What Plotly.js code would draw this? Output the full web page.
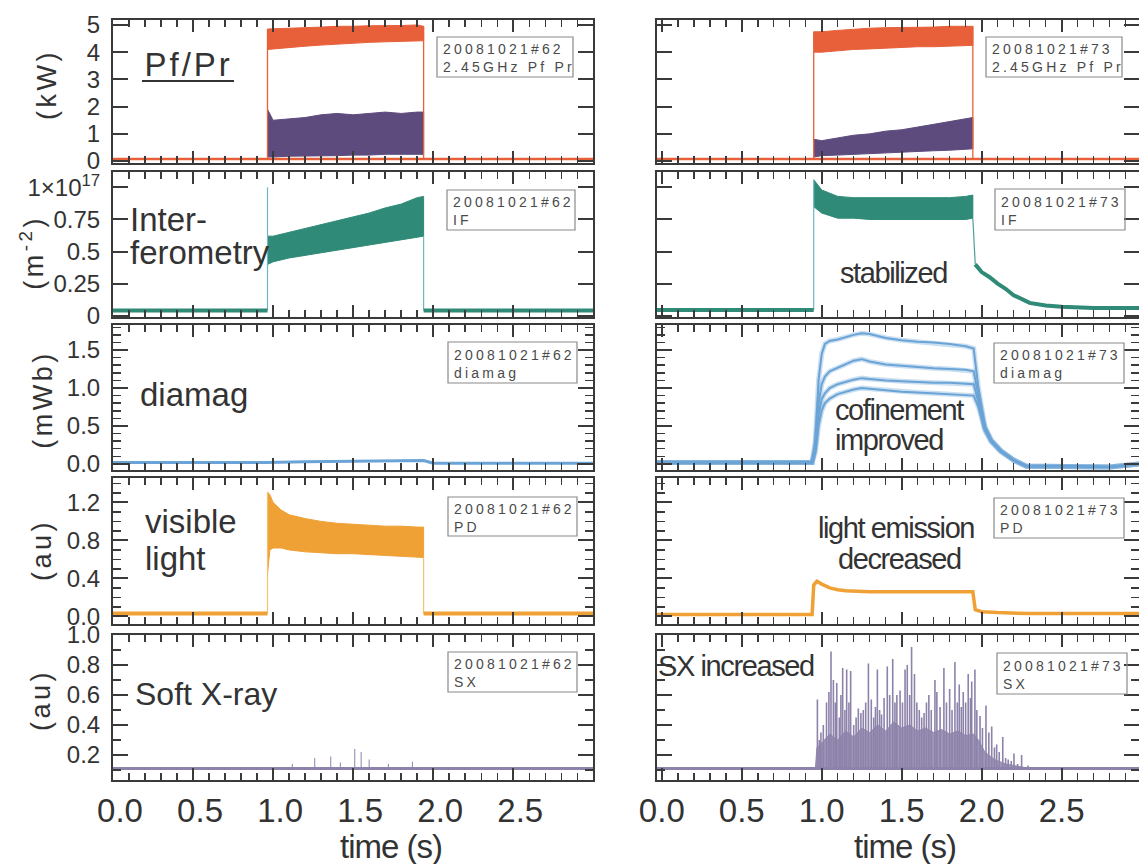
<!DOCTYPE html>
<html><head><meta charset="utf-8">
<script src="https://cdn.plot.ly/plotly-3.0.1.min.js"></script>
<style>
html,body{margin:0;padding:0;background:#fff}
.xtick text{letter-spacing:-2px}
</style>
</head><body><div id="chart" style="width:1139px;height:864px"></div>
<script>
// ---------------- DATA ----------------
const timeTicks = [0, 0.5, 1.0, 1.5, 2.0, 2.5];
const timeTickText = ['0.0', '0.5', '1.0', '1.5', '2.0', '2.5'];
const pwrTicks = [0, 1, 2, 3, 4, 5];
const pwrTickText = ['0', '1', '2', '3', '4', '5'];
const ifTicks = [0, 0.25, 0.5, 0.75, 1];
const ifTickText = ['0', '0.25', '0.5', '0.75', '1×10<sup>17</sup>'];
const diaTicks = [0, 0.5, 1.0, 1.5];
const diaTickText = ['0.0', '0.5', '1.0', '1.5'];
const pdTicks = [0, 0.4, 0.8, 1.2];
const pdTickText = ['0.0', '0.4', '0.8', '1.2'];
const sxTicks = [0.2, 0.4, 0.6, 0.8, 1.0];
const sxTickText = ['0.2', '0.4', '0.6', '0.8', '1.0'];

// shot #62 (left) pulse times and envelopes
const tL = [0.965, 1.0, 1.1, 1.2, 1.3, 1.4, 1.5, 1.6, 1.7, 1.8, 1.9, 1.94];
const pfL_lo = [4.10, 4.12, 4.18, 4.22, 4.26, 4.30, 4.33, 4.36, 4.38, 4.40, 4.42, 4.42];
const pfL_hi = [4.85, 4.85, 4.88, 4.90, 4.92, 4.95, 4.95, 4.97, 4.98, 4.98, 5.00, 4.95];
const prL_lo = [0.15, 0.15, 0.18, 0.18, 0.20, 0.20, 0.22, 0.22, 0.25, 0.25, 0.25, 0.25];
const prL_hi = [1.90, 1.50, 1.55, 1.60, 1.70, 1.75, 1.70, 1.75, 1.80, 1.75, 1.80, 1.80];
const pwrBaseL = 0.08;
const ifL_lo = [0.40, 0.42, 0.45, 0.47, 0.49, 0.51, 0.53, 0.55, 0.57, 0.59, 0.61, 0.62];
const ifL_hi = [0.62, 0.62, 0.65, 0.68, 0.71, 0.74, 0.77, 0.80, 0.84, 0.87, 0.92, 0.93];
const ifL_peak = 1.0;
const ifBaseL = 0.04;
const tDiaL = [0, 0.5, 0.96, 1.2, 1.5, 1.8, 1.94, 2.0, 2.5, 3.0];
const diaL = [0.02, 0.02, 0.02, 0.03, 0.04, 0.045, 0.045, 0.01, 0.01, 0.01];
const tPdL = [0.965, 0.98, 1.0, 1.05, 1.1, 1.2, 1.3, 1.4, 1.5, 1.6, 1.7, 1.8, 1.9, 1.94];
const pdL_lo = [0.45, 0.70, 0.72, 0.72, 0.70, 0.68, 0.67, 0.66, 0.66, 0.65, 0.64, 0.63, 0.62, 0.62];
const pdL_hi = [1.31, 1.28, 1.20, 1.12, 1.07, 1.03, 1.00, 0.98, 0.97, 0.96, 0.95, 0.95, 0.94, 0.94];
const pdBaseL = 0.03;
const sxBaseL = 0.11;
const sxSpikeTL = [1.12, 1.26, 1.36, 1.42, 1.51, 1.55, 1.60, 1.72, 1.87];
const sxSpikeVL = [0.14, 0.18, 0.19, 0.15, 0.24, 0.22, 0.17, 0.14, 0.155];

// shot #73 (right)
const tR = [0.95, 1.0, 1.1, 1.2, 1.3, 1.4, 1.5, 1.6, 1.7, 1.8, 1.9, 1.945];
const pfR_lo = [4.00, 4.00, 4.05, 4.10, 4.12, 4.15, 4.18, 4.20, 4.20, 4.22, 4.25, 4.25];
const pfR_hi = [4.75, 4.75, 4.80, 4.85, 4.88, 4.90, 4.90, 4.92, 4.92, 4.95, 4.95, 4.95];
const prR_lo = [0.15, 0.20, 0.22, 0.25, 0.28, 0.30, 0.32, 0.35, 0.38, 0.40, 0.42, 0.45];
const prR_hi = [0.80, 0.75, 0.85, 0.95, 1.00, 1.10, 1.15, 1.25, 1.35, 1.45, 1.55, 1.60];
const pwrBaseR = 0.08;
const ifR_lo = [0.85, 0.80, 0.76, 0.76, 0.75, 0.75, 0.75, 0.75, 0.75, 0.75, 0.75, 0.76];
const ifR_hi = [1.06, 0.98, 0.93, 0.92, 0.92, 0.92, 0.92, 0.92, 0.92, 0.92, 0.93, 0.94];
const ifBaseR = 0.045;
const tIfDecR = [1.96, 2.0, 2.05, 2.1, 2.15, 2.2, 2.3, 2.4, 2.5, 2.7, 2.99];
const ifDecR = [0.40, 0.34, 0.30, 0.25, 0.21, 0.16, 0.10, 0.08, 0.07, 0.06, 0.06];
const tDiaR = [-0.03, 0.94, 0.96, 0.98, 1.0, 1.02, 1.05, 1.1, 1.2, 1.25, 1.3, 1.4, 1.5, 1.6, 1.7, 1.8, 1.9, 1.95, 1.98, 2.02, 2.06, 2.12, 2.2, 2.28, 2.4, 2.6, 2.8, 2.99];
const diaR1 = [0.02, 0.02, 0.30, 1.10, 1.45, 1.58, 1.62, 1.64, 1.70, 1.72, 1.71, 1.66, 1.63, 1.61, 1.60, 1.58, 1.55, 1.52, 1.00, 0.50, 0.32, 0.18, 0.05, -0.03, -0.03, -0.03, -0.04, 0.00];
const diaR2 = [0.02, 0.02, 0.25, 0.80, 1.05, 1.15, 1.22, 1.27, 1.36, 1.38, 1.35, 1.31, 1.29, 1.27, 1.26, 1.25, 1.24, 1.22, 0.90, 0.48, 0.31, 0.17, 0.05, -0.03, -0.03, -0.03, -0.04, 0.00];
const diaR3 = [0.02, 0.02, 0.20, 0.65, 0.85, 0.93, 1.00, 1.05, 1.11, 1.13, 1.12, 1.10, 1.09, 1.08, 1.07, 1.07, 1.06, 1.05, 0.82, 0.46, 0.30, 0.17, 0.05, -0.03, -0.03, -0.03, -0.04, 0.00];
const diaR4 = [0.02, 0.02, 0.15, 0.50, 0.70, 0.80, 0.86, 0.92, 0.98, 1.00, 0.99, 0.97, 0.95, 0.94, 0.93, 0.92, 0.91, 0.90, 0.75, 0.44, 0.29, 0.16, 0.05, -0.03, -0.03, -0.03, -0.04, 0.00];
const tPdR = [-0.03, 0.94, 0.95, 0.97, 1.0, 1.05, 1.1, 1.15, 1.3, 1.5, 1.7, 1.9, 1.945, 1.96, 2.0, 2.1, 2.3, 2.6, 2.99];
const pdR = [0.02, 0.02, 0.33, 0.37, 0.34, 0.30, 0.28, 0.27, 0.26, 0.26, 0.26, 0.26, 0.26, 0.07, 0.05, 0.04, 0.03, 0.03, 0.03];
const sxBaseR = 0.11;
const sxFloorT = [0.96, 0.97, 1.0, 1.05, 1.1, 1.15, 1.2, 1.25, 1.3, 1.35, 1.4, 1.45, 1.5, 1.55, 1.6, 1.65, 1.7, 1.75, 1.8, 1.85, 1.9, 1.95, 1.98, 2.02, 2.08, 2.15, 2.25, 2.3];
const sxFloorV = [0.11, 0.25, 0.28, 0.34, 0.30, 0.36, 0.32, 0.38, 0.35, 0.40, 0.36, 0.42, 0.38, 0.40, 0.36, 0.38, 0.35, 0.37, 0.34, 0.36, 0.33, 0.34, 0.30, 0.22, 0.17, 0.14, 0.12, 0.11];
const sxSpikeTR = [0.973, 0.985, 0.995, 1.01, 1.03, 1.045, 1.058, 1.073, 1.085, 1.094, 1.11, 1.12, 1.131, 1.145, 1.156, 1.17, 1.181, 1.20, 1.215, 1.229, 1.245, 1.26, 1.275, 1.292, 1.31, 1.325, 1.336, 1.348, 1.362, 1.374, 1.39, 1.41, 1.425, 1.444, 1.458, 1.47, 1.49, 1.505, 1.521, 1.535, 1.55, 1.562, 1.58, 1.595, 1.61, 1.625, 1.64, 1.655, 1.67, 1.685, 1.708, 1.72, 1.74, 1.764, 1.78, 1.80, 1.815, 1.833, 1.848, 1.86, 1.873, 1.885, 1.90, 1.916, 1.93, 1.938, 1.958, 1.97, 1.99, 2.005, 2.027, 2.045, 2.063, 2.08, 2.094, 2.11, 2.132, 2.15, 2.166, 2.185, 2.202, 2.225, 2.25, 2.29];
const sxSpikeVR = [0.57, 0.30, 0.35, 0.40, 0.55, 0.62, 0.89, 0.70, 0.55, 0.68, 0.45, 0.60, 0.78, 0.50, 0.77, 0.55, 0.76, 0.40, 0.45, 0.51, 0.48, 0.50, 0.55, 0.81, 0.57, 0.45, 0.52, 0.77, 0.50, 0.47, 0.58, 0.79, 0.60, 0.84, 0.55, 0.60, 0.63, 0.55, 0.77, 0.80, 0.60, 0.92, 0.74, 0.55, 0.50, 0.45, 0.48, 0.55, 0.60, 0.50, 0.70, 0.62, 0.52, 0.78, 0.55, 0.64, 0.50, 0.82, 0.55, 0.67, 0.52, 0.62, 0.55, 0.74, 0.58, 0.69, 0.77, 0.50, 0.46, 0.38, 0.53, 0.35, 0.39, 0.25, 0.27, 0.22, 0.32, 0.18, 0.17, 0.16, 0.21, 0.14, 0.20, 0.13];

const boxLine1 = ['20081021#62', '20081021#73', '20081021#62', '20081021#73', '20081021#62', '20081021#73', '20081021#62', '20081021#73', '20081021#62', '20081021#73'];
const boxLine2 = ['2.45GHz Pf Pr', '2.45GHz Pf Pr', 'IF', 'IF', 'diamag', 'diamag', 'PD', 'PD', 'SX', 'SX'];
const yTitles = ['(kW)', '(m<sup>-2</sup>)', '(mWb)', '(au)', '(au)'];

// ---------------- LAYOUT ----------------
const W = 1139, H = 864;
const X = p => p / W, Y = p => 1 - p / H;
const FRAME = '#3a3a3a', TXT = '#333333';
const SANS = '"Liberation Sans", Arial, sans-serif';
const colDom = [[113, 593], [657, 1139]];
const rowDom = [[19.5, 163], [172, 317], [325, 470], [478, 624], [635, 780]];
const xRanges = [[0, 2.998], [-0.03, 2.984]];
const xLabelShift = [7, 0];
const yRanges = [[-0.07, 5.2], [-0.01, 1.12], [-0.08, 1.83], [-0.08, 1.457], [0.033, 1.0]];
const yTickSets = [[pwrTicks, pwrTickText, null], [ifTicks, ifTickText, null], [diaTicks, diaTickText, 0.1], [pdTicks, pdTickText, 0.1], [sxTicks, sxTickText, 0.1]];

const COL = {pf: '#e8603a', pr: '#5d4b7e', ifc: '#2f8a77', dia: '#6aa3d6', pd: '#efa136', sx: '#8d82aa'};

const layout = {width: W, height: H, margin: {l: 0, r: 0, t: 0, b: 0}, showlegend: false,
  paper_bgcolor: '#fff', plot_bgcolor: '#fff', annotations: [], shapes: []};
const sfx = n => (n === 1 ? '' : String(n));
const axn = (r, c) => r * 2 + c + 1;

for (let r = 0; r < 5; r++) {
  for (let c = 0; c < 2; c++) {
    const n = axn(r, c);
    layout['xaxis' + sfx(n)] = {
      domain: [X(colDom[c][0]), X(colDom[c][1])], range: xRanges[c], anchor: 'y' + sfx(n),
      tickmode: 'array', tickvals: timeTicks, ticktext: timeTickText,
      ticks: 'inside', ticklen: 12, tickwidth: 2, tickcolor: FRAME,
      showline: true, linecolor: FRAME, linewidth: 2, mirror: 'allticks',
      showgrid: false, zeroline: false, showticklabels: r === 4,
      tickfont: {family: SANS, size: 33, color: TXT}, ticklabelshift: xLabelShift[c], ticklabelstandoff: 0,
      minor: {tickmode: 'linear', tick0: 0, dtick: 0.1, ticks: 'inside', ticklen: 7, tickwidth: 1.5, tickcolor: FRAME, showgrid: false},
      fixedrange: true
    };
    const ts = yTickSets[r];
    const ya = {
      domain: [Y(rowDom[r][1]), Y(rowDom[r][0])], range: yRanges[r], anchor: 'x' + sfx(n),
      tickmode: 'array', tickvals: ts[0], ticktext: ts[1],
      ticks: 'inside', ticklen: 15, tickwidth: 2, tickcolor: FRAME,
      showline: true, linecolor: FRAME, linewidth: 2, mirror: 'allticks',
      showgrid: false, zeroline: false, showticklabels: c === 0,
      tickfont: {family: SANS, size: 24, color: TXT}, ticklabelstandoff: 6,
      fixedrange: true
    };
    if (ts[2]) ya.minor = {tickmode: 'linear', tick0: 0, dtick: ts[2], ticks: 'inside', ticklen: 8, tickwidth: 1.5, tickcolor: FRAME, showgrid: false};
    layout['yaxis' + sfx(n)] = ya;
  }
}

// ---------------- TRACES ----------------
const traces = [];
const ax = n => ({xaxis: 'x' + sfx(n), yaxis: 'y' + sfx(n)});
function band(n, t, lo, hi, color) {
  traces.push(Object.assign({type: 'scatter', mode: 'lines', x: t.concat(t.slice().reverse()), y: lo.concat(hi.slice().reverse()),
    fill: 'toself', fillcolor: color, line: {color: color, width: 1}, hoverinfo: 'skip'}, ax(n)));
}
function line(n, t, v, color, w) {
  traces.push(Object.assign({type: 'scatter', mode: 'lines', x: t, y: v, line: {color: color, width: w}, hoverinfo: 'skip'}, ax(n)));
}
function spikes(n, t, v, base, color, w) {
  const xs = [], ys = [];
  t.forEach((ti, i) => { xs.push(ti, ti, null); ys.push(base, v[i], null); });
  traces.push(Object.assign({type: 'scatter', mode: 'lines', x: xs, y: ys, line: {color: color, width: w}, hoverinfo: 'skip'}, ax(n)));
}
const first = a => a[0], last = a => a[a.length - 1];

// Row 1: Pf / Pr
band(1, tL, pfL_lo, pfL_hi, COL.pf); band(1, tL, prL_lo, prL_hi, COL.pr);
line(1, [first(tL), first(tL)], [pwrBaseL, first(pfL_hi)], COL.pf, 1.3);
line(1, [last(tL), last(tL)], [last(pfL_hi), pwrBaseL], COL.pf, 1.3);
line(1, [xRanges[0][0], xRanges[0][1]], [pwrBaseL, pwrBaseL], COL.pf, 2.5);
band(2, tR, pfR_lo, pfR_hi, COL.pf); band(2, tR, prR_lo, prR_hi, COL.pr);
line(2, [first(tR), first(tR)], [pwrBaseR, first(pfR_hi)], COL.pf, 1.3);
line(2, [last(tR), last(tR)], [last(pfR_hi), pwrBaseR], COL.pf, 1.3);
line(2, [xRanges[1][0], xRanges[1][1]], [pwrBaseR, pwrBaseR], COL.pf, 2.5);
// Row 2: IF
band(3, tL, ifL_lo, ifL_hi, COL.ifc);
line(3, [first(tL), first(tL)], [ifBaseL, ifL_peak], '#6fb6c0', 1.2);
line(3, [last(tL), last(tL)], [last(ifL_lo), ifBaseL], '#6fb6c0', 1.2);
line(3, [xRanges[0][0], first(tL)], [ifBaseL, ifBaseL], COL.ifc, 4);
line(3, [last(tL), xRanges[0][1]], [ifBaseL, ifBaseL], COL.ifc, 4);
band(4, tR, ifR_lo, ifR_hi, COL.ifc);
line(4, [first(tR), first(tR)], [ifBaseR, first(ifR_hi)], '#6fb6c0', 1.2);
line(4, [last(tR), first(tIfDecR)], [last(ifR_lo), first(ifDecR)], '#4f9f96', 1.2);
line(4, [xRanges[1][0], first(tR)], [ifBaseR, ifBaseR], COL.ifc, 4);
line(4, tIfDecR, ifDecR, COL.ifc, 4);
// Row 3: diamag
line(5, tDiaL, diaL, COL.dia, 3);
[diaR1, diaR2, diaR3, diaR4].forEach(d => line(6, tDiaR, d, 'rgba(106,163,214,0.35)', 5));
[diaR1, diaR2, diaR3, diaR4].forEach(d => line(6, tDiaR, d, COL.dia, 2));
// Row 4: PD
band(7, tPdL, pdL_lo, pdL_hi, COL.pd);
line(7, [first(tPdL), first(tPdL)], [pdBaseL, first(pdL_hi)], '#f4c070', 1.2);
line(7, [last(tPdL), last(tPdL)], [last(pdL_lo), pdBaseL], '#f4c070', 1.2);
line(7, [xRanges[0][0], first(tPdL)], [pdBaseL, pdBaseL], COL.pd, 4);
line(7, [last(tPdL), xRanges[0][1]], [pdBaseL, pdBaseL], COL.pd, 4);
line(8, tPdR, pdR, COL.pd, 3.5);
// Row 5: SX
line(9, [xRanges[0][0], xRanges[0][1]], [sxBaseL, sxBaseL], COL.sx, 3);
spikes(9, sxSpikeTL, sxSpikeVL, sxBaseL, COL.sx, 1);
band(10, sxFloorT, sxFloorT.map(() => sxBaseR), sxFloorV, 'rgba(141,130,170,0.85)');
spikes(10, sxSpikeTR, sxSpikeVR, sxBaseR, COL.sx, 1.6);
line(10, [xRanges[1][0], xRanges[1][1]], [sxBaseR, sxBaseR], COL.sx, 3);

// ---------------- ANNOTATIONS ----------------
const A = layout.annotations;
const spacing = {};
function note(o, ls) { if (ls) spacing[A.length] = ls; A.push(Object.assign({xref: 'paper', yref: 'paper', showarrow: false}, o)); }
// id boxes: [left px, top px, right px, bottom px]
const boxPos = [[437, 37, 573, 77], [986, 37, 1122, 77], [447, 190, 575, 230], [995, 189, 1125, 230], [448, 342, 577, 383],
  [994, 343, 1124, 383], [448, 497, 577, 536], [994, 498, 1124, 538], [448, 652, 577, 692], [997, 653, 1127, 694]];
boxPos.forEach((b, i) => {
  layout.shapes.push({type: 'rect', xref: 'paper', yref: 'paper', x0: X(b[0]), x1: X(b[2]), y0: Y(b[3]), y1: Y(b[1]),
    line: {color: '#8a8a8a', width: 1.2}, fillcolor: 'rgba(0,0,0,0)'});
  note({x: X(b[0] + 4), y: Y((b[1] + b[3]) / 2 + 1), xanchor: 'left', yanchor: 'middle', align: 'left',
    text: boxLine1[i] + '<br>' + boxLine2[i], font: {family: SANS, size: 14, color: '#4a4a4a'}}, 3.2);
});
// y titles: [x center, y center]
const yTitlePos = [[47, 85], [32, 253], [43, 400], [42, 550], [41, 700]];
yTitles.forEach((t, i) => {
  note({x: X(yTitlePos[i][0]), y: Y(yTitlePos[i][1]), xanchor: 'center', yanchor: 'middle',
    text: t, textangle: -90, font: {family: SANS, size: 27, color: TXT}}, 3.5);
});
// time titles
[[391, 846], [905, 846]].forEach(p => {
  note({x: X(p[0]), y: Y(p[1]), xanchor: 'center', yanchor: 'middle',
    text: 'time (s)', font: {family: SANS, size: 33, color: TXT}}, -1);
});
// panel labels: [text, left px, center y px, size, letter spacing]
const labels = [
  ['Inter-', 128, 219, 33, 0], ['ferometry', 128, 252, 33, 0], ['diamag', 138, 394, 33, 0],
  ['visible', 143, 521, 33, 0], ['light', 143, 558, 33, 0], ['Soft X-ray', 133, 694, 32, 0],
  ['stabilized', 838, 273, 29, -1.4], ['cofinement', 833, 410, 29, -1.4], ['improved', 833, 440, 29, -1.4],
  ['light emission', 816, 528, 29, -1.4], ['decreased', 836, 559, 29, -1.4], ['SX increased', 656, 666, 29, -1.4]
];
labels.forEach(l => {
  note({x: X(l[1]), y: Y(l[2]), xanchor: 'left', yanchor: 'middle', align: 'left', text: l[0], font: {family: SANS, size: l[3], color: TXT}}, l[4]);
});
note({x: X(188), y: Y(64), xanchor: 'center', yanchor: 'middle', text: 'Pf/Pr', font: {family: SANS, size: 33, color: TXT}}, 3);
layout.shapes.push({type: 'line', xref: 'paper', yref: 'paper', x0: X(142), x1: X(234), y0: Y(81), y1: Y(81), line: {color: TXT, width: 2}});

// letter spacing for some annotations
const css = Object.keys(spacing).map(k => `.annotation[data-index="${k}"] text{letter-spacing:${spacing[k]}px}`).join('\n');
const st = document.createElement('style'); st.textContent = css; document.head.appendChild(st);

Plotly.newPlot('chart', traces, layout, {staticPlot: true, displayModeBar: false, responsive: false});
</script></body></html>
